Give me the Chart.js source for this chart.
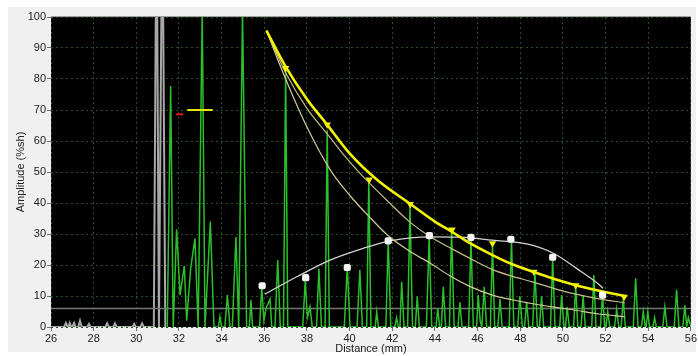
<!DOCTYPE html>
<html>
<head>
<meta charset="utf-8">
<script src="https://cdn.jsdelivr.net/npm/chart.js"></script>
<style>
  html, body { margin: 0; padding: 0; background: #ffffff; }
  #wrap { width: 698px; height: 356px; }
</style>
</head>
<body>
<div id="wrap"><canvas id="ascanChart" width="698" height="356"></canvas></div>
<script>
// A-scan signal (green)
var signalDist = [31.45, 31.61, 31.73, 31.89, 32.05, 32.25, 32.36, 32.55, 32.75, 32.9, 33.09, 33.22, 33.47, 33.64, 33.85, 33.92, 34.0, 34.15, 34.27, 34.39, 34.5, 34.67, 34.8, 34.98, 35.17,
  35.3, 35.375, 35.45, 35.78, 35.88, 35.98, 36.08, 36.27, 36.35, 36.5, 36.63, 36.75, 36.9, 37.0, 37.1, 37.8, 37.92, 38.02, 38.14, 38.25, 38.45, 38.56, 38.68, 38.85, 38.95, 39.05,
  39.75, 39.89, 40.02, 40.35, 40.48, 40.6, 40.8, 40.9, 41.0, 41.2, 41.27, 41.35, 41.7, 41.81, 41.93, 42.12, 42.2, 42.28, 42.36, 42.44, 42.55, 42.72, 42.83, 42.95, 43.08, 43.17, 43.27,
  43.6, 43.73, 43.85, 44.05, 44.13, 44.22, 44.3, 44.39, 44.5, 44.68, 44.78, 44.9, 45.08, 45.17, 45.27, 45.58, 45.69, 45.8, 45.95, 46.03, 46.12, 46.2, 46.31, 46.42, 46.6, 46.7, 46.8,
  46.95, 47.05, 47.15, 47.48, 47.59, 47.7, 47.88, 47.98, 48.1, 48.2, 48.3, 48.4, 48.58, 48.69, 48.8, 48.9, 49.0, 49.1, 49.42, 49.52, 49.63, 49.85, 49.94, 50.05, 50.12, 50.2, 50.3,
  50.5, 50.6, 50.7, 50.85, 50.95, 51.05, 51.35, 51.45, 51.55, 51.76, 51.86, 51.96, 52.02, 52.1, 52.2, 52.42, 52.52, 52.62, 52.73, 52.83, 52.93, 53.3, 53.41, 53.52, 53.68, 53.77,
  53.86, 53.9, 53.98, 54.06, 54.22, 54.3, 54.38, 54.68, 54.78, 54.88, 55.22, 55.33, 55.44, 55.62, 55.72, 55.8, 55.88, 56.0];
var signalAmp = [0, 77.7, 0, 31.5, 10.3, 19.7, 2, 19, 28.5, 0, 102, 0, 34, 0, 0, 3.3, 0, 0, 10.3, 0, 0, 29, 0, 102, 0,
  0, 8.7, 0, 0, 13, 2, 6, 9, 0, 0, 21.6, 0, 0, 83, 0, 0, 14.8, 3, 6.5, 0, 0, 18.8, 0, 0, 63.5, 0,
  0, 19.5, 0, 0, 18.4, 0, 0, 47.4, 0, 0, 4.9, 0, 0, 28, 0, 0, 3, 0, 0, 14.6, 0, 0, 38.8, 0, 0, 9.8, 0,
  0, 29.1, 0, 0, 6, 0, 0, 13, 0, 0, 31.3, 0, 0, 8, 0, 0, 28.6, 0, 0, 10.3, 2, 0, 13, 0, 0, 27, 0,
  0, 9, 0, 0, 28, 0, 0, 10, 0, 0, 8, 0, 0, 17.8, 0, 0, 10, 0, 0, 22, 0, 0, 10.3, 0, 0, 6.4, 0,
  0, 13, 0, 0, 10, 0, 0, 16.8, 0, 0, 10.3, 0, 0, 5, 0, 0, 5.8, 0, 0, 9, 0, 0, 15.7, 0, 0, 5,
  0, 0, 5, 0, 0, 3, 0, 0, 6.5, 0, 0, 12, 0, 0, 7, 0, 3, 0];

// grey interface echo
var echoDist = [26, 26.62, 26.7, 26.78, 26.82, 26.88, 26.95, 27.0, 27.08, 27.15, 27.28, 27.36, 27.44, 27.7, 27.78, 27.86, 28.55, 28.63, 28.71, 28.92, 29.0, 29.08,
  29.82, 29.9, 29.98, 30.19, 30.27, 30.35, 30.82, 30.95, 31.06, 31.22, 31.36];
var echoAmp = [0, 0, 1.3, 0, 0, 1.3, 0, 0, 1.3, 0, 0, 2, 0, 0, 1, 0, 0, 1.2, 0, 0, 1.2, 0,
  0, 1, 0, 0, 1.2, 0, 0, 140, 0, 140, 0];

// reject level
var rejectDist = [26, 56];
var rejectAmp = [6, 6];

// gates
var gateADist = [31.85, 32.2];
var gateAAmp = [68.6, 68.6];
var gateBDist = [32.39, 33.58];
var gateBAmp = [70, 70];

// DAC curve and offset curves
var dacDist = [36.1, 37.0, 38.0, 38.9, 40.0, 41.3, 42.8, 44.0, 44.8, 45.6, 46.7, 47.6, 48.6, 49.6, 50.6, 51.7, 52.9];
var dacAmp = [95.6, 84.0, 73.5, 65.7, 56.0, 47.4, 39.9, 34.0, 30.7, 27.2, 23.2, 20.3, 17.8, 15.5, 13.5, 11.7, 10.0];
var dacUpperDist = [36.1, 37.0, 38.0, 39.1, 39.55, 40.3, 40.7, 41.8, 42.8, 43.8, 44.8, 45.6, 46.7, 47.6, 48.6, 49.6, 50.6, 51.7, 52.9];
var dacUpperAmp = [95.6, 82, 70.5, 61, 57, 51, 48, 40.5, 34, 29, 25.2, 22.3, 18.5, 16.4, 14.5, 12.4, 10.6, 9.1, 7.8];
var dacLowerDist = [36.1, 37.0, 38.0, 39.1, 40.0, 41.0, 41.8, 42.8, 43.8, 44.7, 45.6, 46.7, 47.6, 48.6, 49.6, 50.6, 51.7, 52.9];
var dacLowerAmp = [95.6, 80, 64.5, 50.6, 42.5, 35, 29.5, 24.5, 20.5, 16.5, 13.2, 10.3, 8.8, 7.5, 6.4, 5.4, 4.2, 3.3];
var dacPointDist = [37.0, 38.95, 40.92, 42.84, 44.8, 46.7, 48.64, 50.6, 52.87];
var dacPointAmp = [83.5, 65.3, 47.5, 39.6, 31.4, 27, 17.8, 13.4, 9.7];

// second reference set (white)
var refDist = [36.03, 37.52, 39.08, 40.64, 41.9, 43.77, 45.2, 46.69, 48.3, 49.55, 50.64, 51.73, 51.88];
var refAmp = [10.6, 16.2, 21.6, 25.4, 27.8, 29.1, 29.0, 28.0, 26.8, 23.8, 18.9, 13.5, 12.5];
var refPointDist = [35.9, 37.94, 39.89, 41.81, 43.74, 45.69, 47.56, 49.52, 51.86];
var refPointAmp = [13.3, 15.9, 19.2, 27.8, 29.5, 28.9, 28.3, 22.5, 10.3];

var xTicks = [26, 28, 30, 32, 34, 36, 38, 40, 42, 44, 46, 48, 50, 52, 54, 56];
var yTicks = [0, 10, 20, 30, 40, 50, 60, 70, 80, 90, 100];

function pts(xs, ys) {
  return xs.map(function (x, i) { return { x: x, y: ys[i] }; });
}

const panelBackground = {
  id: 'panelBackground',
  beforeDraw(chart) {
    const ctx = chart.ctx;
    const a = chart.chartArea;
    ctx.save();
    ctx.fillStyle = '#ffffff';
    ctx.fillRect(0, 0, chart.width, chart.height);
    ctx.fillStyle = '#f0f0f0';
    ctx.fillRect(8, 7, chart.width - 10, chart.height - 11);
    ctx.fillStyle = '#000000';
    ctx.fillRect(a.left, a.top, a.right - a.left, a.bottom - a.top);
    ctx.strokeStyle = '#a0a0a0';
    ctx.lineWidth = 1;
    ctx.beginPath();
    ctx.moveTo(a.left, a.top - 0.5);
    ctx.lineTo(a.right, a.top - 0.5);
    ctx.stroke();
    ctx.restore();
  }
};

var tickFont = { family: 'Liberation Sans, Arial, sans-serif', size: 11 };

var ctx = document.getElementById('ascanChart').getContext('2d');
var ascanChart = new Chart(ctx, {
  type: 'line',
  data: {
    datasets: [
      { data: pts(refPointDist, refPointAmp), showLine: false, pointStyle: 'rectRounded', pointRadius: 4.2,
        backgroundColor: '#f4f4f4', borderColor: '#f4f4f4', borderWidth: 0 },
      { data: pts(dacPointDist, dacPointAmp), showLine: false, pointStyle: 'triangle', rotation: 180, pointRadius: 4.3,
        backgroundColor: '#f2f200', borderColor: '#f2f200', borderWidth: 0 },
      { data: pts(dacDist, dacAmp), borderColor: '#f4f400', borderWidth: 2.6, pointRadius: 0, cubicInterpolationMode: 'monotone' },
      { data: pts(dacUpperDist, dacUpperAmp), borderColor: '#c4bb86', borderWidth: 1.2, pointRadius: 0, cubicInterpolationMode: 'monotone' },
      { data: pts(dacLowerDist, dacLowerAmp), borderColor: '#d2cc98', borderWidth: 1.2, pointRadius: 0, cubicInterpolationMode: 'monotone' },
      { data: pts(refDist, refAmp), borderColor: '#d4d4d4', borderWidth: 1.3, pointRadius: 0, cubicInterpolationMode: 'monotone' },
      { data: pts(gateADist, gateAAmp), borderColor: '#e01818', borderWidth: 2, pointRadius: 0 },
      { data: pts(gateBDist, gateBAmp), borderColor: '#e6e600', borderWidth: 2, pointRadius: 0 },
      { data: pts(signalDist, signalAmp), borderColor: '#2cbf2c', borderWidth: 1.5, pointRadius: 0, tension: 0 },
      { data: pts(rejectDist, rejectAmp), borderColor: '#767676', borderWidth: 1.5, pointRadius: 0 },
      { data: pts(echoDist, echoAmp), borderColor: '#a8a8a8', borderWidth: 2, pointRadius: 0, tension: 0 }
    ]
  },
  options: {
    responsive: false,
    animation: false,
    layout: { padding: { left: 8, top: 17, right: 7, bottom: 0 } },
    plugins: {
      legend: { display: false },
      tooltip: { enabled: false }
    },
    scales: {
      x: {
        type: 'linear',
        min: 26,
        max: 56,
        afterFit: function (scale) { scale.height = 29; },
        afterBuildTicks: function (scale) { scale.ticks = xTicks.map(function (v) { return { value: v }; }); },
        ticks: { color: '#202020', font: tickFont, padding: 1, maxRotation: 0 },
        grid: { color: '#264e26', tickColor: '#707070', tickLength: 4, tickBorderDash: [1, 0] },
        border: { display: false, dash: [2, 3] },
        title: { display: true, text: 'Distance (mm)', color: '#202020', font: tickFont, padding: { top: 0, bottom: 0 } }
      },
      y: {
        min: 0,
        max: 100,
        afterFit: function (scale) { scale.width = 43; },
        afterBuildTicks: function (scale) { scale.ticks = yTicks.map(function (v) { return { value: v }; }); },
        ticks: { color: '#202020', font: tickFont, padding: 1 },
        grid: { color: '#264e26', tickColor: '#707070', tickLength: 4, tickBorderDash: [1, 0] },
        border: { display: false, dash: [2, 3] },
        title: { display: true, text: 'Amplitude (%sh)', color: '#202020', font: tickFont, padding: { top: 6, bottom: 0 } }
      }
    }
  },
  plugins: [panelBackground]
});
</script>
</body>
</html>
